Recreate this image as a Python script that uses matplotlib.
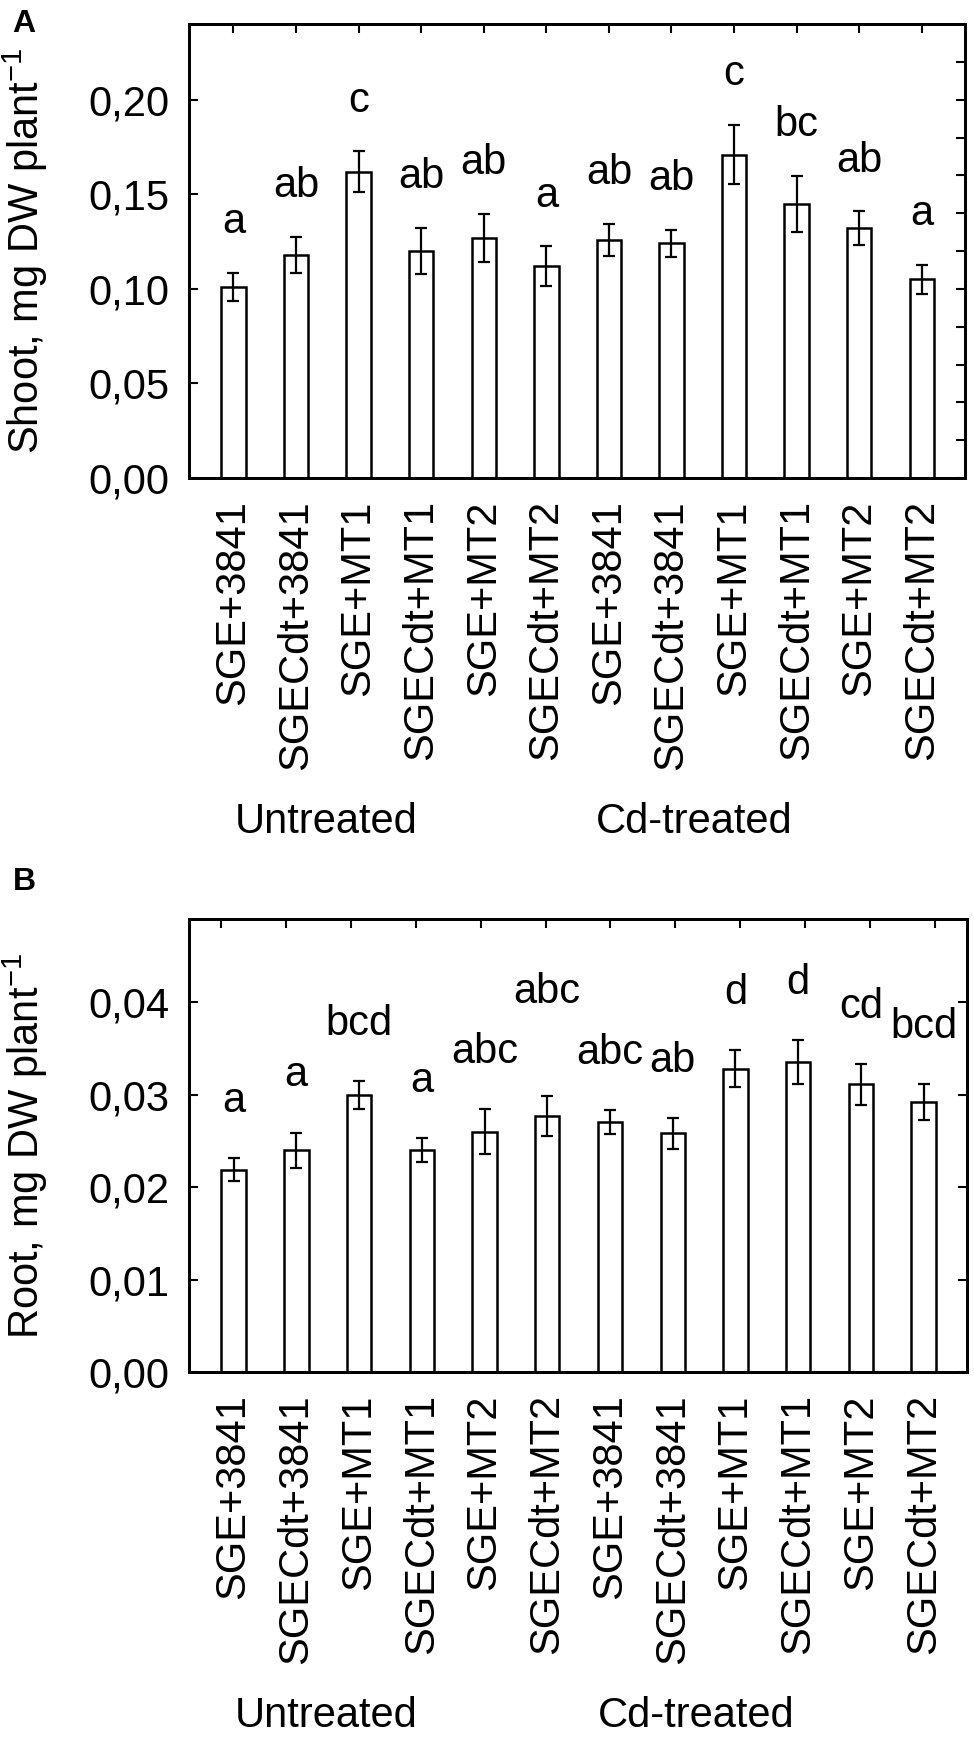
import numpy as np
import matplotlib
matplotlib.use("Agg")
import matplotlib.pyplot as plt
from matplotlib.ticker import FuncFormatter

plt.rcParams['font.family'] = ['Liberation Sans', 'DejaVu Sans']
plt.rcParams['mathtext.fontset'] = 'custom'
plt.rcParams['mathtext.rm'] = 'Liberation Sans'
plt.rcParams['mathtext.default'] = 'regular'

# ---------------- data ----------------
categories = ["SGE+3841", "SGECdt+3841", "SGE+MT1", "SGECdt+MT1", "SGE+MT2", "SGECdt+MT2",
              "SGE+3841", "SGECdt+3841", "SGE+MT1", "SGECdt+MT1", "SGE+MT2", "SGECdt+MT2"]
groups = ["Untreated", "Cd-treated"]

shoot_mean = [0.101, 0.118, 0.162, 0.120, 0.127, 0.112, 0.126, 0.124, 0.171, 0.145, 0.132, 0.105]
shoot_err = [0.0075, 0.0095, 0.0107, 0.0124, 0.0126, 0.0104, 0.0084, 0.0073, 0.0156, 0.0148, 0.0089, 0.0075]
shoot_letters = ["a", "ab", "c", "ab", "ab", "a", "ab", "ab", "c", "bc", "ab", "a"]

root_mean = [0.0219, 0.0240, 0.0300, 0.0240, 0.0260, 0.0277, 0.0270, 0.0258, 0.0328, 0.0335, 0.0311, 0.0292]
root_err = [0.0012, 0.0019, 0.0015, 0.0013, 0.0024, 0.0022, 0.0013, 0.0017, 0.0020, 0.0024, 0.0022, 0.0019]
root_letters = ["a", "a", "bcd", "a", "abc", "abc", "abc", "ab", "d", "d", "cd", "bcd"]

FS = 30
W, H = 974, 1738
fig = plt.figure(figsize=(W / 100, H / 100), dpi=100)

def comma_fmt(v, pos):
    return f"{v:.2f}".replace('.', ',')

def px_axes(left, top, right, bottom):
    return fig.add_axes([left / W, 1 - bottom / H, (right - left) / W, (bottom - top) / H])

def draw_panel(ax, means, errs, letters, ylim, yticks, gap, extra_lift=None):
    x = np.arange(len(means))
    ax.bar(x, means, width=0.39, color='white', edgecolor='black', linewidth=1.8, zorder=2)
    ax.errorbar(x, means, yerr=errs, fmt='none', ecolor='black', elinewidth=1.6,
                capsize=4.5, capthick=1.6, zorder=3)
    for i, (m, e, l) in enumerate(zip(means, errs, letters)):
        lift = extra_lift.get(i, 0) if extra_lift else 0
        ax.text(i, m + e + gap + lift, l, ha='center', va='baseline', fontsize=FS)
    ax.set_xlim(-0.71, 11.69)
    ax.set_ylim(*ylim)
    ax.set_yticks(yticks)
    ax.yaxis.set_major_formatter(FuncFormatter(comma_fmt))
    ax.set_xticks(x)
    ax.set_xticklabels(categories, rotation=90, ha='center', va='top')
    ax.tick_params(axis='both', direction='in', length=6.5, width=1.5, labelsize=FS)
    ax.tick_params(axis='y', pad=14)
    ax.tick_params(axis='x', pad=16)
    for s in ax.spines.values():
        s.set_linewidth(2.0)
    ax.text(1.48, -0.783, groups[0], transform=ax.get_xaxis_transform(),
            ha='center', va='baseline', fontsize=FS)
    ax.text(7.37, -0.783, groups[1], transform=ax.get_xaxis_transform(),
            ha='center', va='baseline', fontsize=FS)

# ---------------- Panel A ----------------
axA = px_axes(189, 24, 965, 478)
draw_panel(axA, shoot_mean, shoot_err, shoot_letters, (0, 0.24),
           [0, 0.05, 0.10, 0.15, 0.20], 0.021)
axA.tick_params(axis='x', top=True)
axA2 = axA.twinx()
axA2.set_ylim(0, 0.24)
axA2.set_yticks(np.arange(0, 0.2201, 0.02))
axA2.tick_params(axis='y', direction='in', length=6.5, width=1.5, labelright=False)
for s in axA2.spines.values():
    s.set_linewidth(2.0)
fig.text(25 / W, 1 - 251 / H, r"Shoot, mg DW plant$^{-1}$", rotation=90,
         ha='center', va='center', fontsize=FS)
fig.text(12 / W, 1 - 32 / H, "A", fontsize=23, fontweight='bold', ha='left', va='baseline')

# ---------------- Panel B ----------------
axB = px_axes(189, 919, 967, 1372)
draw_panel(axB, root_mean, root_err, root_letters, (0, 0.049),
           [0, 0.01, 0.02, 0.03, 0.04], 0.005, extra_lift={5: 0.005})
axB.tick_params(axis='y', right=True)
axB3 = axB.twiny()
axB3.set_xlim(0, 12)
axB3.set_xticks(np.arange(12) + 0.5)
axB3.tick_params(axis='x', direction='in', length=6.5, width=1.5, labeltop=False)
for s in axB3.spines.values():
    s.set_linewidth(2.0)
fig.text(25 / W, 1 - 1146 / H, r"Root, mg DW plant$^{-1}$", rotation=90,
         ha='center', va='center', fontsize=FS)
fig.text(13 / W, 1 - 890 / H, "B", fontsize=23, fontweight='bold', ha='left', va='baseline')

fig.savefig("out.png", dpi=100, facecolor='white')
